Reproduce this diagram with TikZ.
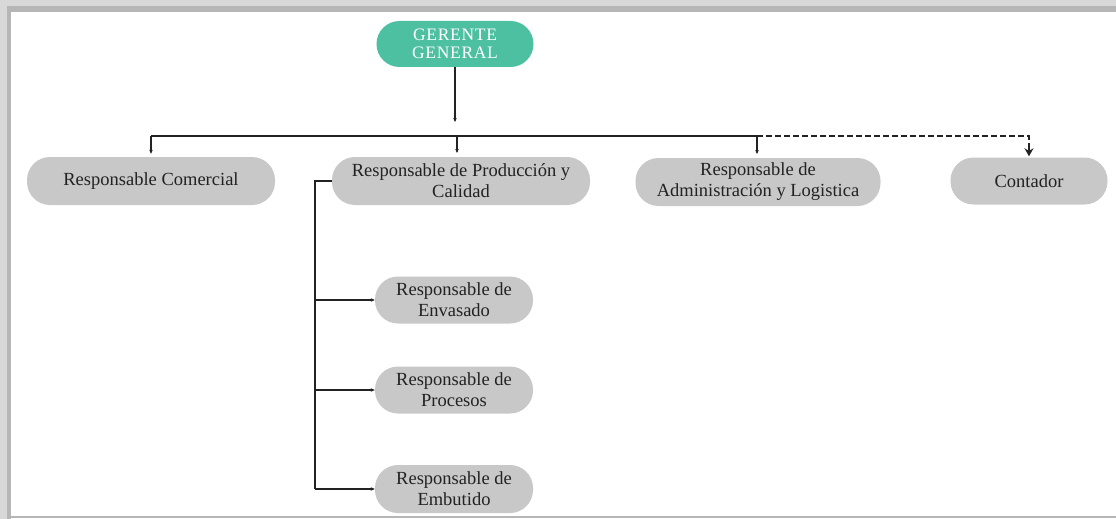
\documentclass[tikz,border=0pt]{standalone}
\usepackage{fontspec}
\setmainfont{Liberation Serif}
\usetikzlibrary{arrows.meta}
\definecolor{teal1}{HTML}{4DC0A2}
\definecolor{boxgray}{HTML}{C8C8C8}
\definecolor{ink}{HTML}{222222}
\definecolor{frameA}{HTML}{D8D8D8}
\definecolor{frameB}{HTML}{B6B6B6}
\tikzset{
  pill/.style={rectangle, rounded corners=23pt, fill=boxgray, text=ink,
    inner sep=0pt, align=center, font=\fontsize{18.5}{21}\selectfont},
  headpill/.style={pill, fill=teal1, text=white,
    font=\fontsize{17.5}{18}\selectfont\addfontfeatures{LetterSpace=4}},
  link/.style={draw=ink, line width=1.2pt},
  tip/.style={link, -{Stealth[length=4pt,width=3.5pt]}},
  dashlink/.style={draw=ink, line width=2.6pt, dash pattern=on 6pt off 3pt},
}
\begin{document}
\begin{tikzpicture}[x=1pt,y=-1pt]
\useasboundingbox (0,0) rectangle (1116,519);
\fill[white] (0,0) rectangle (1116,519);
% frame
\fill[frameA] (0,0) rectangle (1116,6);
\fill[frameB] (0,6) rectangle (1116,12);
\fill[frameA] (0,0) rectangle (7,519);
\fill[frameB] (7,12) rectangle (11,519);
\fill[frameB] (11,515.5) rectangle (1116,518);

% nodes
\node[headpill, minimum width=157pt, minimum height=46pt] (gg) at (455,44) {GERENTE\\GENERAL};
\node[pill, minimum width=248pt, minimum height=48pt] (com) at (151,181) {Responsable Comercial};
\node[pill, minimum width=258pt, minimum height=48pt] (prod) at (461,181) {Responsable de Producción y\\Calidad};
\node[pill, minimum width=245pt, minimum height=48pt] (adm) at (758,182) {Responsable de\\Administración y Logistica};
\node[pill, minimum width=157pt, minimum height=47pt] (cont) at (1029,181) {Contador};
\node[pill, minimum width=158pt, minimum height=47pt] (env) at (454,300) {Responsable de\\Envasado};
\node[pill, minimum width=158pt, minimum height=47pt] (proc) at (454,390) {Responsable de\\Procesos};
\node[pill, minimum width=158pt, minimum height=48pt] (emb) at (454,489) {Responsable de\\Embutido};

% bus coordinates
\coordinate (ggend) at (455,122);
\coordinate (bl) at (151,136);
\coordinate (bp) at (457,136);
\coordinate (br) at (757,136);
\coordinate (bd) at (1029,136);
\coordinate (dd) at (1029,145);
\coordinate (pl) at (315,181);
\coordinate (pb) at (315,489);

% connectors
\draw[tip] (gg.south) -- (ggend);
\draw[link] (bl) -- (br);
\draw[tip, shorten >=3pt] (bl) -- (com.north);
\draw[tip] (bp) -- (457,153);
\draw[tip] (br) -- (757,154);
\draw[dashlink] (br) -- (bd) -- (dd);
\draw[ink, line width=2.6pt, -{Stealth[length=8pt,width=9pt]}, shorten >=1pt] (dd) -- (cont.north);

\draw[link] (prod.west) -- (pl) -- (pb);
\draw[tip] (pl |- env.west) -- (env.west);
\draw[tip] (pl |- proc.west) -- (proc.west);
\draw[tip] (pb) -- (emb.west);
\end{tikzpicture}
\end{document}
